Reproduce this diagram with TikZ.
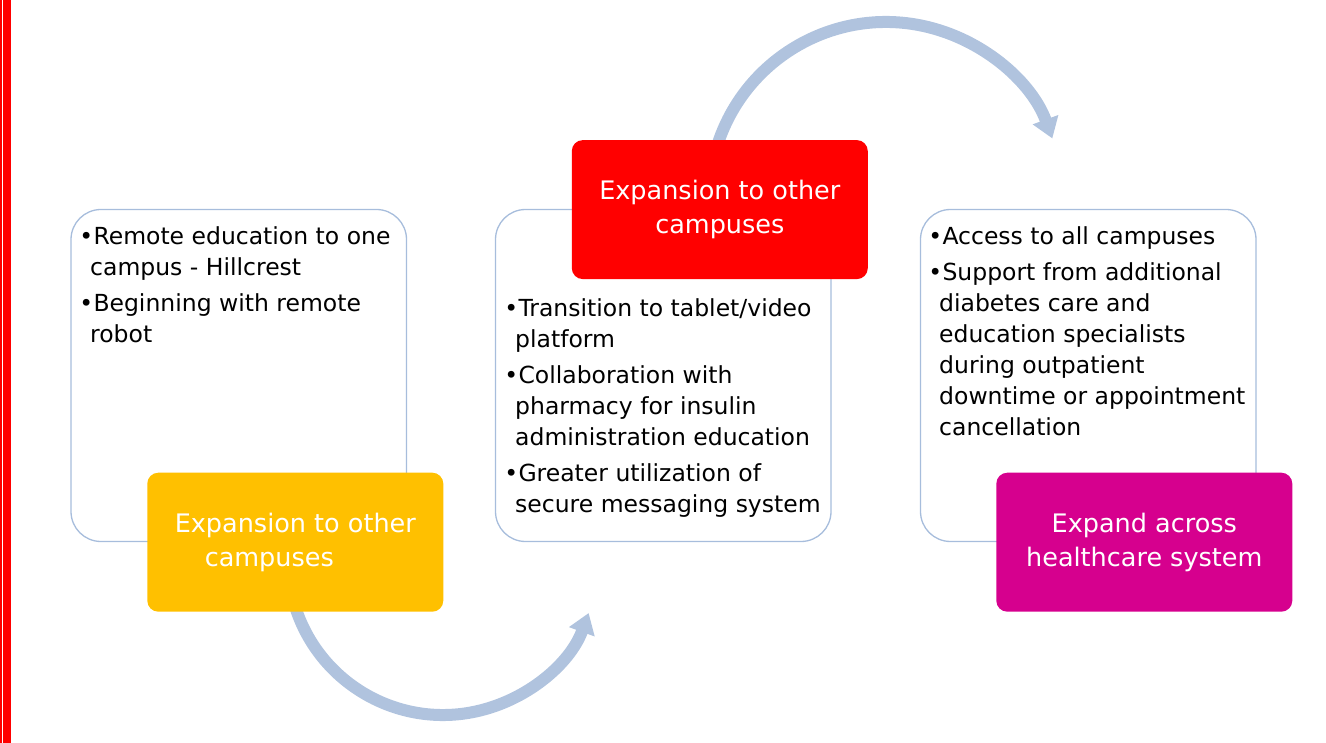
\documentclass[tikz,border=0pt]{standalone}
\usepackage{fontspec}
\setmainfont{DejaVu Sans}
\usetikzlibrary{arrows.meta}

\definecolor{boxline}{HTML}{A7BDDC}
\definecolor{arcblue}{HTML}{B0C3DE}
\definecolor{ygold}{HTML}{FFC000}
\definecolor{rred}{HTML}{FF0000}
\definecolor{mag}{HTML}{D6008E}

% bullet hanging to the left of the text column
\newcommand\bul{\hspace*{-10.8pt}\makebox[14.1pt][l]{•}}

\begin{document}
\begin{tikzpicture}[x=1pt,y=1pt,
  panel/.style={draw=boxline, line width=1.3pt, rounded corners=30pt, fill=white,
                minimum width=335.5pt, minimum height=332pt, inner sep=0pt},
  tag/.style={rounded corners=11pt, minimum width=296pt, minimum height=139pt,
              inner sep=0pt, text=white, align=center,
              font=\fontsize{25.5}{34}\selectfont},
  list/.style={anchor=base west, inner sep=0pt,
               font=\fontsize{23.5}{31}\selectfont},
  cyc/.style={draw=arcblue, line width=12pt,
              -{Triangle[width=26pt,length=20pt]}}
]
\useasboundingbox (0,0) rectangle (1326,-743);

% red page edge
\fill[rred] (0,0) rectangle (1.7,-743);
\fill[rred] (3.3,0) rectangle (10.7,-743);

% circular connectors (drawn first, tags cover their tails)
\coordinate (hub1) at (443,-560);
\coordinate (hub2) at (886,-199);
\draw[cyc] ([shift={(192:155)}]hub1) arc[start angle=192, end angle=340, radius=155];
\draw[cyc] ([shift={(166:177)}]hub2) arc[start angle=166, end angle=20, radius=177];

% white panels
\node[panel] (p1) at (238.75,-375.5) {};
\node[panel] (p2) at (663.25,-375.5) {};
\node[panel] (p3) at (1088.25,-375.5) {};

% panel texts
\node[list] (l1) at (90,-245) {\parbox[t]{320pt}{\raggedright
  \bul Remote education to one\\
  campus - Hillcrest\\[5pt]
  \bul Beginning with remote\\
  robot}};

\node[list] (l2) at (515,-317) {\parbox[t]{320pt}{\raggedright
  \bul Transition to tablet/video\\
  platform\\[5pt]
  \bul Collaboration with\\
  pharmacy for insulin\\
  administration education\\[5pt]
  \bul Greater utilization of\\
  secure messaging system}};

\node[list] (l3) at (939,-245) {\parbox[t]{320pt}{\raggedright
  \bul Access to all campuses\\[5pt]
  \bul Support from additional\\
  diabetes care and\\
  education specialists\\
  during outpatient\\
  downtime or appointment\\
  cancellation}};

% coloured tags
\node[tag, fill=ygold] (ty) at (295.3,-542.2) {Expansion to other\\ campuses\hspace*{52pt}};
\node[tag, fill=rred] (tr) at (719.8,-209.6) {Expansion to other\\ campuses};
\node[tag, fill=mag] (tm) at (1144.3,-542.2) {Expand across\\ healthcare system};

\end{tikzpicture}
\end{document}
